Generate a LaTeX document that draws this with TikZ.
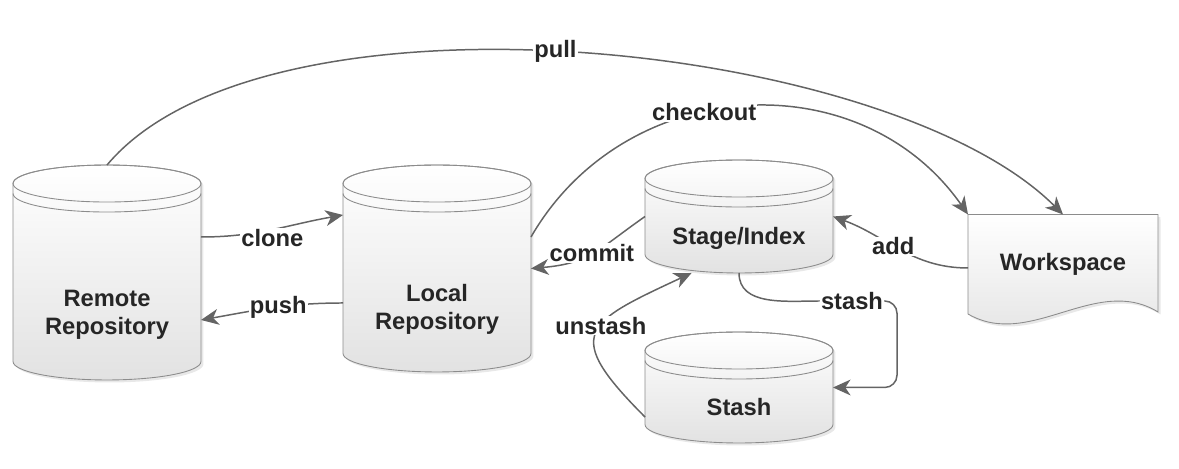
\documentclass[tikz,border=0pt]{standalone}
\usepackage{fontspec}
\setmainfont{Liberation Sans}
\usetikzlibrary{arrows.meta,shadows,calc,backgrounds}
\definecolor{wire}{HTML}{646464}
\definecolor{rim}{HTML}{8C8C8C}
\definecolor{ink}{HTML}{262626}
\definecolor{dbfill}{HTML}{E2E2E2}

% cylinder drawn round a named box node
\newcommand{\dbshape}[1]{%
  \path[dbbody] ($(#1.north west)+(0,-18.5)$) -- ($(#1.south west)+(0,18.5)$)
    arc[start angle=180,end angle=360,x radius=1.88cm,y radius=0.37cm]
    -- ($(#1.north east)+(0,-18.5)$)
    arc[start angle=0,end angle=180,x radius=1.88cm,y radius=0.37cm] -- cycle;
  \draw[dbrim] ($(#1.north west)+(0,-18.5)$) arc[start angle=180,end angle=-180,x radius=1.88cm,y radius=0.37cm];
  \draw[dbrim] ($(#1.north west)+(0,-28.5)$) arc[start angle=180,end angle=360,x radius=1.88cm,y radius=0.37cm];
}

\begin{document}
\begin{tikzpicture}[x=0.02cm,y=0.02cm,
    dbbox/.style={rectangle,minimum width=3.76cm,inner sep=0pt,outer sep=0pt},
    dbrim/.style={draw=rim,line width=0.5pt},
    dbbody/.style={dbrim,top color=white,bottom color=dbfill,
      drop shadow={shadow xshift=0.05cm,shadow yshift=-0.05cm,opacity=0.18}},
    dbtext/.style={font=\fontsize{13.5}{16}\selectfont\bfseries,text=ink,align=center},
    lbl/.style={font=\fontsize{13.5}{16}\selectfont\bfseries,text=ink,fill=white,inner sep=0.6pt},
    flow/.style={draw=wire,line width=0.85pt,-{Stealth[length=10pt,width=9pt,inset=3pt]}}]
  \useasboundingbox (0,0) rectangle (1179,469);

  % repositories
  \node[dbbox,minimum height=4.3cm,label={[dbtext,yshift=-0.85cm]center:Remote\\Repository}] (remote) at (107,196.5) {};
  \node[dbbox,minimum height=4.14cm,label={[dbtext,yshift=-0.81cm]center:Local\\Repository}] (local) at (437,200.5) {};
  \node[dbbox,minimum height=2.26cm,label={[dbtext,yshift=-0.43cm]center:Stage/Index}] (stage) at (739,252.5) {};
  \node[dbbox,minimum height=2.22cm,label={[dbtext,yshift=-0.39cm]center:Stash}] (stash) at (739,81.5) {};

  % workspace
  \node[dbtext,minimum width=3.8cm,minimum height=1.98cm,inner sep=0pt,outer sep=0pt] (ws) at (1063,205) {Workspace};

  \begin{scope}[on background layer]
    \foreach \n in {remote,local,stage,stash}
      \dbshape{\n};
    \path[dbbody] (ws.north west) -- (ws.north east) -- (1158,157)
      .. controls (1096,195) and (1030,119) .. (968,155) -- cycle;
  \end{scope}

  % commands
  \draw[flow] ([yshift=0.71cm]remote.east) to[out=0,in=190] node[lbl,yshift=-0.16cm]{clone} ([yshift=1.07cm]local.west);
  \draw[flow] ([yshift=-0.69cm]local.west) to[out=180,in=10] node[lbl,pos=0.45]{push} ([yshift=-0.95cm]remote.east);
  \draw[flow] (remote.north) to[out=50,in=135,looseness=0.66] node[lbl,pos=0.48]{pull} (ws.north);
  \draw[flow] ([yshift=0.63cm]local.east) to[out=60,in=125,looseness=1.1] node[lbl,pos=0.42]{checkout} (ws.north west);
  \draw[flow] (stage.west) to[out=215,in=5,looseness=1.2] node[lbl]{commit} (local.east);
  \draw[flow] ([yshift=-0.08cm]ws.west) to[out=180,in=-20] node[lbl,pos=0.55]{add} (stage.east);
  \node[lbl] (stashlbl) at (852,168) {stash};
  \coordinate (stashbend) at (897,81.5);
  \draw[wire,line width=0.85pt] (stage.south) to[out=-90,in=180] (stashlbl.west);
  \draw[flow,rounded corners=7pt] (stashlbl.east) -| (stashbend) -- (stash.east);
  \draw[flow] ([yshift=-0.59cm]stash.west) to[out=135,in=205,looseness=2] node[lbl,pos=0.56]{unstash} (stage.230);
\end{tikzpicture}
\end{document}
